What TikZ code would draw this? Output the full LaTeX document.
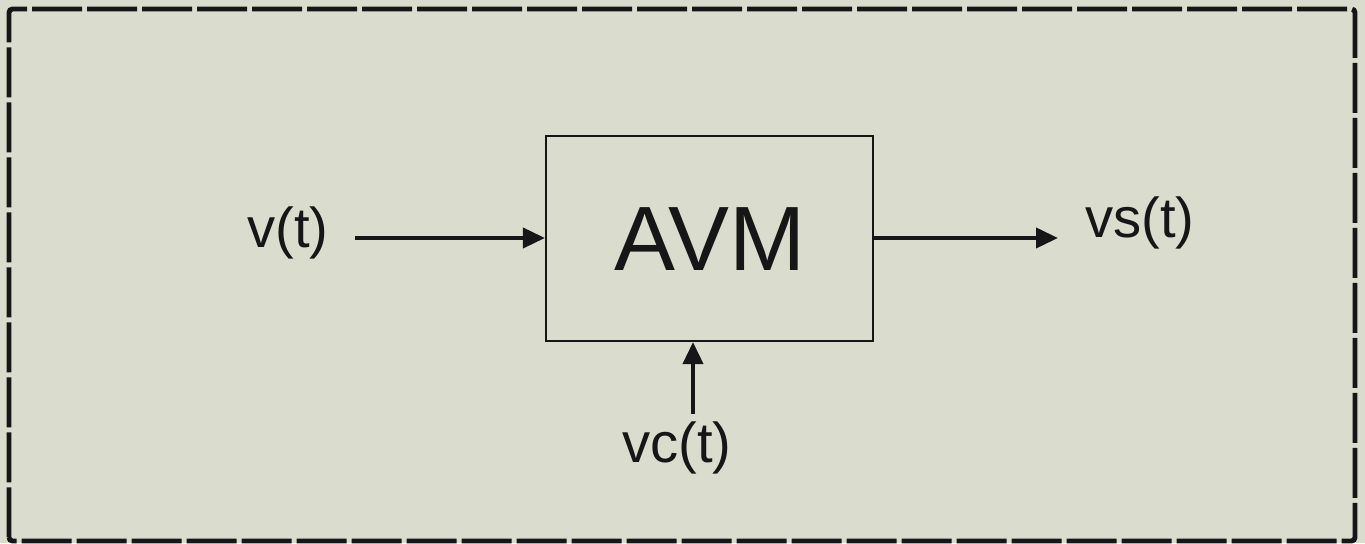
\documentclass[tikz,border=0pt]{standalone}
\usepackage{fontspec}
\setmainfont{Liberation Sans}
\usetikzlibrary{arrows.meta,positioning}
\definecolor{paperbg}{RGB}{218,221,206}
\definecolor{inkdark}{RGB}{22,22,22}

\begin{document}
\begin{tikzpicture}[
    >={Triangle[length=0.22cm, width=0.2cm]},
    blockbox/.style={draw=inkdark, line width=0.6pt, minimum width=3.27cm, minimum height=2.05cm, inner sep=0pt},
    sigtext/.style={text=inkdark, font=\fontsize{16}{18}\selectfont, inner sep=1pt},
    sigline/.style={inkdark, line width=1.1pt, ->}
]

% Background & Frame
\fill[paperbg] (0,0) rectangle (13.65,5.43);
\draw[inkdark, line width=1.4pt, dash pattern=on 0.5cm off 0.05cm, rounded corners=1pt] (0.09,0.02) rectangle (13.55,5.34);

% Block
\node[blockbox] (avm) at (7.095,3.045) {};
\node[text=inkdark, font=\fontsize{26}{30}\selectfont] (avmlabel) at (7.10,3.04) {AVM};

% Signals
\node[sigtext] (vin) at (2.88,3.10) {v(t)};
\node[sigtext] (vout) at (11.40,3.20) {vs(t)};
\node[sigtext] (vc) at (6.77,0.95) {vc(t)};
\coordinate (vinstart) at (3.55,3.05);
\coordinate (vcstart) at (6.93,1.29);

% Connectors
\draw[sigline] (vinstart) -- (vinstart -| avm.west);
\draw[sigline] (avm.east |- vinstart) -- (10.58,3.05);
\draw[sigline] (vcstart) -- (vcstart |- avm.south);

\end{tikzpicture}
\end{document}
